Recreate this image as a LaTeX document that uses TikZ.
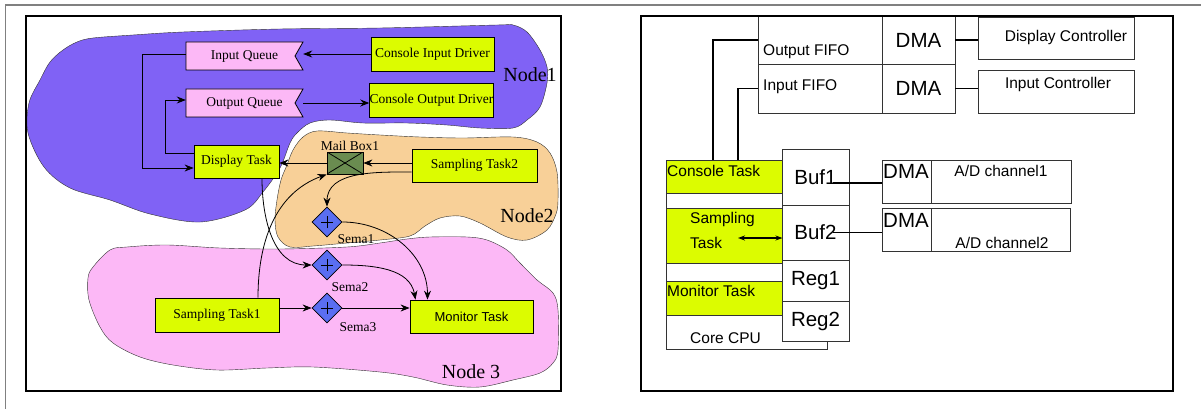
\documentclass[tikz,border=0pt]{standalone}
\usepackage{fontspec}
\setmainfont{Liberation Serif}
\setsansfont{Liberation Sans}
\usepackage{tikz}
\usetikzlibrary{arrows.meta,shapes.geometric}
\definecolor{nodeViolet}{HTML}{8062F5}
\definecolor{nodeTan}{HTML}{F8D098}
\definecolor{nodePink}{HTML}{FCB8F6}
\definecolor{taskYellow}{HTML}{DCFC00}
\definecolor{mailGreen}{HTML}{6A8C50}
\definecolor{semaBlue}{HTML}{5A6EF2}
\definecolor{edgeGray}{HTML}{333333}

\begin{document}
\begin{tikzpicture}[x=1pt,y=-1pt,
    font=\fontsize{13.5}{16}\selectfont,
    task/.style={draw=black, fill=taskYellow, inner sep=0pt, line width=0.8pt},
    queue/.style={inner sep=0pt, minimum width=117pt, minimum height=28pt},
    mailbox/.style={draw=black, fill=mailGreen, inner sep=0pt, line width=0.8pt,
      minimum width=36pt, minimum height=22pt,
      path picture={\draw (path picture bounding box.north west) -- (path picture bounding box.south east)
        (path picture bounding box.south west) -- (path picture bounding box.north east);}},
    sema/.style={diamond, draw=black, fill=semaBlue, inner sep=0pt, line width=0.8pt,
      minimum width=30pt, minimum height=30pt,
      path picture={\draw ([xshift=-6pt]path picture bounding box.center) -- ([xshift=6pt]path picture bounding box.center)
        ([yshift=-6pt]path picture bounding box.center) -- ([yshift=6pt]path picture bounding box.center);}},
    flow/.style={-{Stealth[length=9pt,width=7pt,inset=3pt]}, line width=0.8pt},
    cell/.style={draw=edgeGray, inner sep=0pt, line width=0.9pt},
    wire/.style={line width=1.6pt},
    txt/.style={inner sep=0pt},
  ]
    \useasboundingbox (0,0) rectangle (1201,409);
    \fill[white] (0,0) rectangle (1201,409);
    \draw[gray, line width=1.5pt] (5.5,409) -- (5.5,5) -- (1201,5);

    \fill [draw=edgeGray, thin, fill=nodeViolet] plot[smooth cycle, tension=0.55] coordinates {
      (50,62) (63,50) (77,42) (93,38) (133,35) (183,32) (280,29) (380,28) (497,25) (513,25) (527,32)
      (540,50) (547,67) (547,83) (540,107) (527,120) (513,128) (480,128) (447,125) (407,123) (363,123)
      (330,120) (310,123) (297,133) (290,143) (280,168) (263,192) (245,210) (200,222) (150,214)
      (110,200) (70,188) (44,167) (28,133) (29,103) (40,80)};
    \fill [draw=edgeGray, thin, fill=nodePink] plot[smooth cycle, tension=0.55] coordinates {
      (110,250) (127,247) (167,245) (220,248) (280,249) (347,247) (380,243) (407,239) (430,237)
      (467,237) (487,240) (507,250) (520,263) (537,280) (553,293) (558,310) (558,350) (553,363)
      (540,373) (513,380) (480,387) (447,385) (413,377) (380,372) (313,367) (267,368) (217,370)
      (173,365) (140,357) (113,343) (100,327) (89,300) (88,278) (93,267)};
    \fill [draw=edgeGray, thin, fill=nodeTan] plot[smooth cycle, tension=0.55] coordinates {
      (293,150) (303,137) (317,131) (347,133) (380,135) (420,137) (463,138) (513,137) (537,142)
      (550,153) (557,172) (558,200) (556,214) (547,230) (527,240) (507,237) (480,223) (460,216)
      (440,218) (425,226) (410,236) (380,240) (347,243) (313,246) (290,247) (278,237) (275,220)
      (277,200) (281,180) (287,165)};

    \node[txt, anchor=base] (node1lab) at (530,82) {\fontsize{20}{24}\selectfont Node1};
    \node[txt, anchor=base] (node2lab) at (527,222) {\fontsize{20}{24}\selectfont Node2};
    \node[txt, anchor=base] (node3lab) at (471,378) {\fontsize{20}{24}\selectfont Node 3};

    \fill [draw=black, line width=0.8pt, fill=nodePink] (186,42) -- (303,42) -- (295,56) -- (303,70) -- (186,70) -- cycle;
    \node[queue] (iq) at (244.5,56) {Input Queue};
    \fill [draw=black, line width=0.8pt, fill=nodePink] (186,89) -- (303,89) -- (295,103) -- (303,117) -- (186,117) -- cycle;
    \node[queue] (oq) at (244.5,103) {Output Queue};

    \node[task, minimum width=123pt, minimum height=34pt] (cid) at (432.5,54) {Console Input Driver};
    \node[task, minimum width=123pt, minimum height=34pt] (cod) at (431.5,100) {Console Output Driver};
    \node[task, minimum width=85pt, minimum height=33pt] (dt) at (236.5,161.5) {Display Task};
    \node[mailbox] (mb) at (345,163) {};
    \node[txt, anchor=base] (mblab) at (350,150) {Mail Box1};
    \node[task, minimum width=125pt, minimum height=33pt] (st2) at (474.5,165.5) {Sampling Task2};
    \node[sema] (sema1) at (327,222) {};
    \node[sema] (sema2) at (327,265) {};
    \node[sema] (sema3) at (327,308) {};
    \node[txt, anchor=base] (s1lab) at (356,243) {Sema1};
    \node[txt, anchor=base] (s2lab) at (350,291) {Sema2};
    \node[txt, anchor=base] (s3lab) at (358,331) {Sema3};
    \node[task, minimum width=124pt, minimum height=34pt] (st1) at (217,315) {Sampling Task1};
    \node[task, minimum width=123pt, minimum height=33pt, font=\sffamily\fontsize{13}{16}\selectfont] (mt) at (471.5,316.5) {Monitor Task};

    \draw[flow] (cid.west) -- (cid.west -| iq.east);
    \draw[flow] (oq.east) -- (oq.east -| cod.west);
    \draw[flow] ([yshift=2pt]iq.west) -- ++(-43,0) |- ([yshift=-6.5pt]dt.west);
    \draw[flow] ([yshift=8.5pt]dt.west) -- ++(-28,0) |- ([yshift=3pt]oq.west);
    \draw[flow] (mb.west) -- (mb.west -| dt.east);
    \draw[flow] (mb.east -| st2.west) -- (mb.east);
    \draw[flow] ([yshift=-6.5pt]st2.west) to[out=180,in=90] (sema1.north);
    \draw[flow] ([xshift=25.5pt]dt.south) to[out=-90,in=180] (sema2.west);
    \draw[flow] ([xshift=41pt]st1.north) to[out=90,in=200] (mb.south west);
    \draw[flow] (st1.east |- sema3) -- (sema3.west);
    \draw[flow] (sema3.east) -- (sema3 -| mt.west);
    \draw[flow] (sema2.east) to[out=0,in=100] ([xshift=-56pt]mt.north);
    \draw[flow] (sema1.east) to[out=0,in=90] ([xshift=-44pt]mt.north);

    \draw[line width=2.5pt] (26,16) rectangle (561,391);

    \begin{scope}[font=\sffamily\fontsize{15.5}{18}\selectfont]
      \node[cell, minimum width=124pt, minimum height=48pt] (ofifo) at (820,40) {};
      \node[cell, minimum width=124pt, minimum height=49pt] (ififo) at (820,88.5) {};
      \node[cell, minimum width=73pt, minimum height=48pt, font=\sffamily\fontsize{20.5}{24}\selectfont] (dma1) at (918.5,40) {DMA};
      \node[cell, minimum width=73pt, minimum height=49pt, font=\sffamily\fontsize{20.5}{24}\selectfont] (dma2) at (918.5,88.5) {DMA};
      \node[txt, anchor=base west] (ofifotxt) at (763,56) {Output FIFO};
      \node[txt, anchor=base west] (ififotxt) at (763,91) {Input FIFO};
      \node[cell, minimum width=156pt, minimum height=42pt] (dc) at (1056,38) {};
      \node[txt, anchor=base] (dctxt) at (1066,42) {Display Controller};
      \node[cell, minimum width=156pt, minimum height=43pt] (ic) at (1056,91.5) {};
      \node[txt, anchor=base] (ictxt) at (1058,88.5) {Input Controller};

      \node[cell, minimum width=161pt, minimum height=189pt] (cpu) at (746.5,254.5) {};
      \node[cell, fill=taskYellow, minimum width=116pt, minimum height=33pt] (ct) at (724,176.5) {};
      \node[cell, fill=taskYellow, minimum width=116pt, minimum height=55pt] (smp) at (724,235.5) {};
      \node[cell, fill=taskYellow, minimum width=116pt, minimum height=34pt] (mon) at (724,298) {};
      \node[txt, anchor=base west] (cttxt) at (667,176) {Console Task};
      \node[txt, anchor=north west, align=left] (smptxt) at (690,212) {Sampling\\[7pt]Task};
      \node[txt, anchor=base west] (montxt) at (667,296) {Monitor Task};
      \node[txt, anchor=base west] (cputxt) at (690,343) {Core CPU};

      \begin{scope}[font=\sffamily\fontsize{20.5}{24}\selectfont]
        \node[cell, fill=white, minimum width=67pt, minimum height=56pt] (buf1) at (815.5,177) {Buf1};
        \node[cell, fill=white, minimum width=67pt, minimum height=55pt] (buf2) at (815.5,232.5) {Buf2};
        \node[cell, fill=white, minimum width=67pt, minimum height=41pt] (reg1) at (815.5,280.5) {Reg1};
        \node[cell, fill=white, minimum width=67pt, minimum height=40pt] (reg2) at (815.5,321) {Reg2};
        \node[cell, minimum width=49pt, minimum height=43pt] (adc1dma) at (906.5,181.5) {};
        \node[cell, minimum width=49pt, minimum height=43pt] (adc2dma) at (906.5,229.5) {};
        \node[txt, anchor=base west] (adc1dmatxt) at (883,178) {DMA};
        \node[txt, anchor=base west] (adc2dmatxt) at (883,227) {DMA};
      \end{scope}
      \node[cell, minimum width=140pt, minimum height=43pt] (adc1) at (1001,181.5) {};
      \node[cell, minimum width=139pt, minimum height=43pt] (adc2) at (1000.5,229.5) {};
      \node[txt, anchor=base] (adc1txt) at (1001,176.5) {A/D channel1};
      \node[txt, anchor=base] (adc2txt) at (1002,248) {A/D channel2};

      \draw[wire] (ofifo.west) -| ([xshift=-11pt]ct.north);
      \draw[wire] (ififo.west) -| ([xshift=14pt]ct.north);
      \draw[wire] (dma1.east) -- (dma1.east -| dc.west);
      \draw[wire] (dma2.east) -- (dma2.east -| ic.west);
      \draw[wire] ([xshift=17.5pt,yshift=-6pt]buf1.center) -- ([yshift=-6pt]buf1.center -| adc1dma.west);
      \draw[wire] ([xshift=17.5pt]buf2.center) -- (buf2.center -| adc2dma.west);
      \draw[{Stealth[length=7pt,width=5pt]}-{Stealth[length=7pt,width=5pt]}, line width=1.2pt]
        ([xshift=14pt,yshift=-2.5pt]smp.center) -- ([yshift=-2.5pt]smp.east);
    \end{scope}

    \draw[line width=2.5pt] (641,16) rectangle (1173,391);
\end{tikzpicture}
\end{document}
